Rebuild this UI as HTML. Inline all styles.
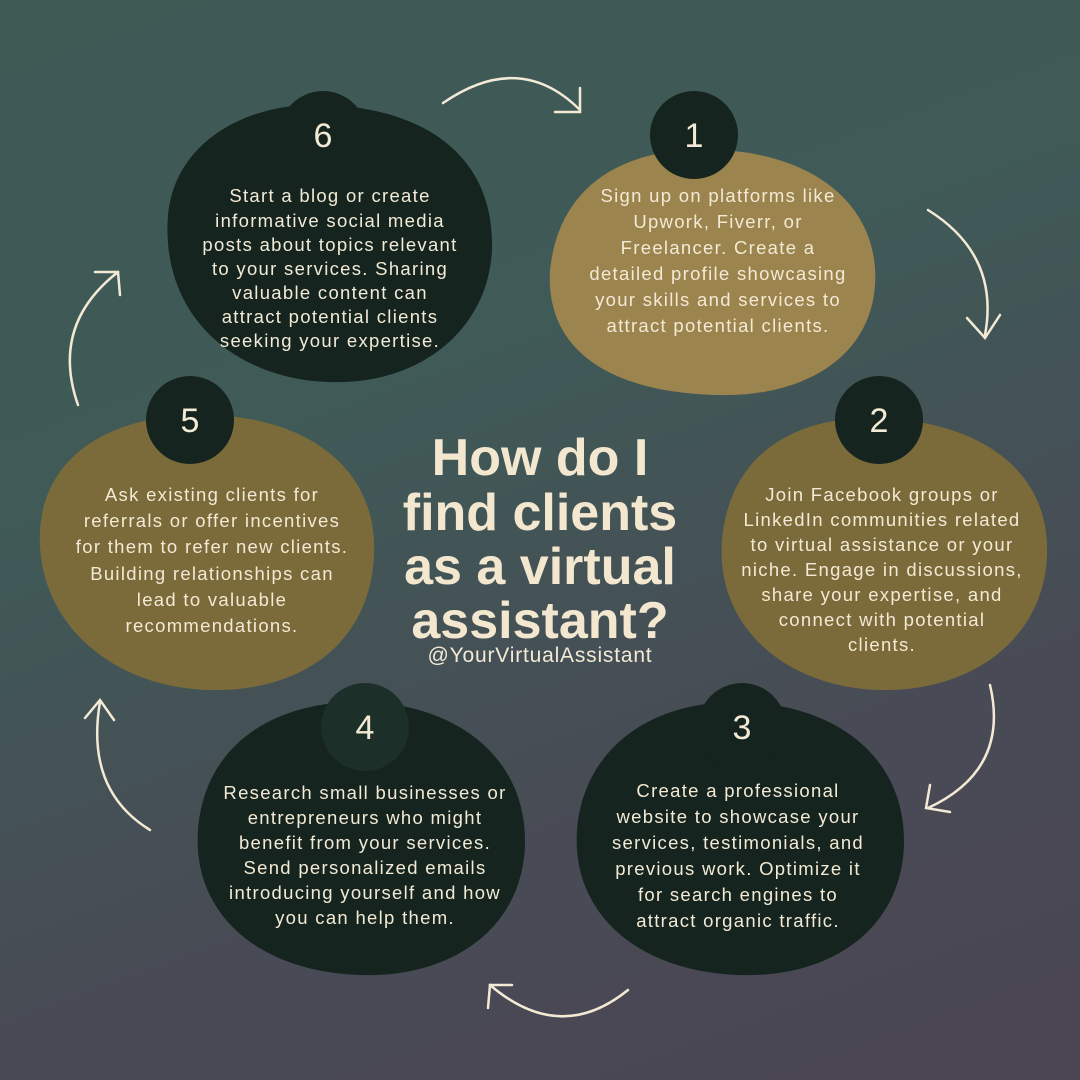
<!DOCTYPE html>
<html><head><style>
html,body{margin:0;padding:0}
body{width:1080px;height:1080px;overflow:hidden;background:linear-gradient(160deg,#3f5a55 0%,#3f5a57 35%,#484b55 70%,#4b4554 100%);font-family:"Liberation Sans",sans-serif}
svg{position:absolute;left:0;top:0}
</style></head><body>
<svg width="1080" height="1080" viewBox="0 0 1080 1080">
<g fill="none" stroke="#f3ead5" stroke-width="2.5" stroke-linecap="round">
<path d="M443,103 Q520,50 580,110"/><path d="M555,112 L580,112 L580,88"/>
<path d="M928,210 Q1000,255 985,335"/><path d="M967,318 L985,338 L1000,315"/>
<path d="M990,685 Q1010,770 928,808"/><path d="M930,785 L926,808 L950,812"/>
<path d="M628,990 Q560,1045 490,985"/><path d="M488,1008 L490,985 L512,985"/>
<path d="M150,830 Q85,790 100,702"/><path d="M85,718 L100,700 L114,720"/>
<path d="M78,405 Q50,325 118,272"/><path d="M95,272 L118,272 L120,295"/>
</g>
<path d="M168,215 C175,140 250,100 330,105 C430,110 495,160 492,250 C488,330 420,385 330,382 C240,380 160,320 168,215Z" fill="#15241f"/>
<path d="M550,270 C560,180 630,145 720,150 C820,155 880,210 875,285 C870,360 800,398 715,395 C610,392 545,350 550,270Z" fill="#9c844f"/>
<path d="M722,540 C730,450 800,415 880,418 C980,422 1050,470 1047,555 C1044,640 970,692 880,690 C790,688 715,630 722,540Z" fill="#7b6a3a"/>
<path d="M40,530 C45,450 120,412 210,415 C310,418 378,470 374,555 C370,645 300,692 210,690 C110,688 35,620 40,530Z" fill="#7b6a3a"/>
<path d="M198,830 C205,740 280,700 365,702 C460,705 527,760 525,845 C522,930 450,978 360,975 C260,972 192,915 198,830Z" fill="#15241f"/>
<path d="M577,830 C584,745 655,700 742,702 C840,705 906,760 904,845 C901,930 830,978 740,975 C640,972 571,915 577,830Z" fill="#15241f"/>
<g fill="#15241f"><circle cx="323" cy="135" r="44"/><circle cx="694" cy="135" r="44"/><circle cx="879" cy="420" r="44"/><circle cx="190" cy="420" r="44"/><circle cx="742" cy="727" r="44"/></g>
<circle cx="365" cy="727" r="44" fill="#1d2f29"/>
<g fill="#f3ead5" font-family="Liberation Sans, sans-serif" font-size="34" text-anchor="middle">
<text x="323" y="147">6</text><text x="694" y="147">1</text><text x="879" y="432">2</text><text x="190" y="432">5</text><text x="742" y="739">3</text><text x="365" y="739">4</text>
</g>
<g fill="#f3ead5" font-size="18.5" letter-spacing="1.3" text-anchor="middle">
<text x="330" y="202">Start a blog or create</text><text x="330" y="227">informative social media</text><text x="330" y="251">posts about topics relevant</text><text x="330" y="275">to your services. Sharing</text><text x="330" y="299">valuable content can</text><text x="330" y="323">attract potential clients</text><text x="330" y="347">seeking your expertise.</text>
<text x="718" y="202">Sign up on platforms like</text><text x="718" y="228">Upwork, Fiverr, or</text><text x="718" y="254">Freelancer. Create a</text><text x="718" y="280">detailed profile showcasing</text><text x="718" y="306">your skills and services to</text><text x="718" y="332">attract potential clients.</text>
<text x="882" y="501">Join Facebook groups or</text><text x="882" y="526">LinkedIn communities related</text><text x="882" y="551">to virtual assistance or your</text><text x="882" y="576">niche. Engage in discussions,</text><text x="882" y="601">share your expertise, and</text><text x="882" y="626">connect with potential</text><text x="882" y="651">clients.</text>
<text x="212" y="501">Ask existing clients for</text><text x="212" y="527">referrals or offer incentives</text><text x="212" y="553">for them to refer new clients.</text><text x="212" y="580">Building relationships can</text><text x="212" y="606">lead to valuable</text><text x="212" y="632">recommendations.</text>
<text x="365" y="799">Research small businesses or</text><text x="365" y="824">entrepreneurs who might</text><text x="365" y="849">benefit from your services.</text><text x="365" y="874">Send personalized emails</text><text x="365" y="899">introducing yourself and how</text><text x="365" y="924">you can help them.</text>
<text x="738" y="797">Create a professional</text><text x="738" y="823">website to showcase your</text><text x="738" y="849">services, testimonials, and</text><text x="738" y="875">previous work. Optimize it</text><text x="738" y="901">for search engines to</text><text x="738" y="927">attract organic traffic.</text>
</g>
<g fill="#f3e8cf" font-size="52" font-weight="bold" text-anchor="middle">
<text x="540" y="475">How do I</text><text x="540" y="530">find clients</text><text x="540" y="584">as a virtual</text><text x="540" y="638">assistant?</text>
</g>
<text x="540" y="662" fill="#f3ead5" font-size="21" letter-spacing="0.8" text-anchor="middle">@YourVirtualAssistant</text>
</svg>
</body></html>
